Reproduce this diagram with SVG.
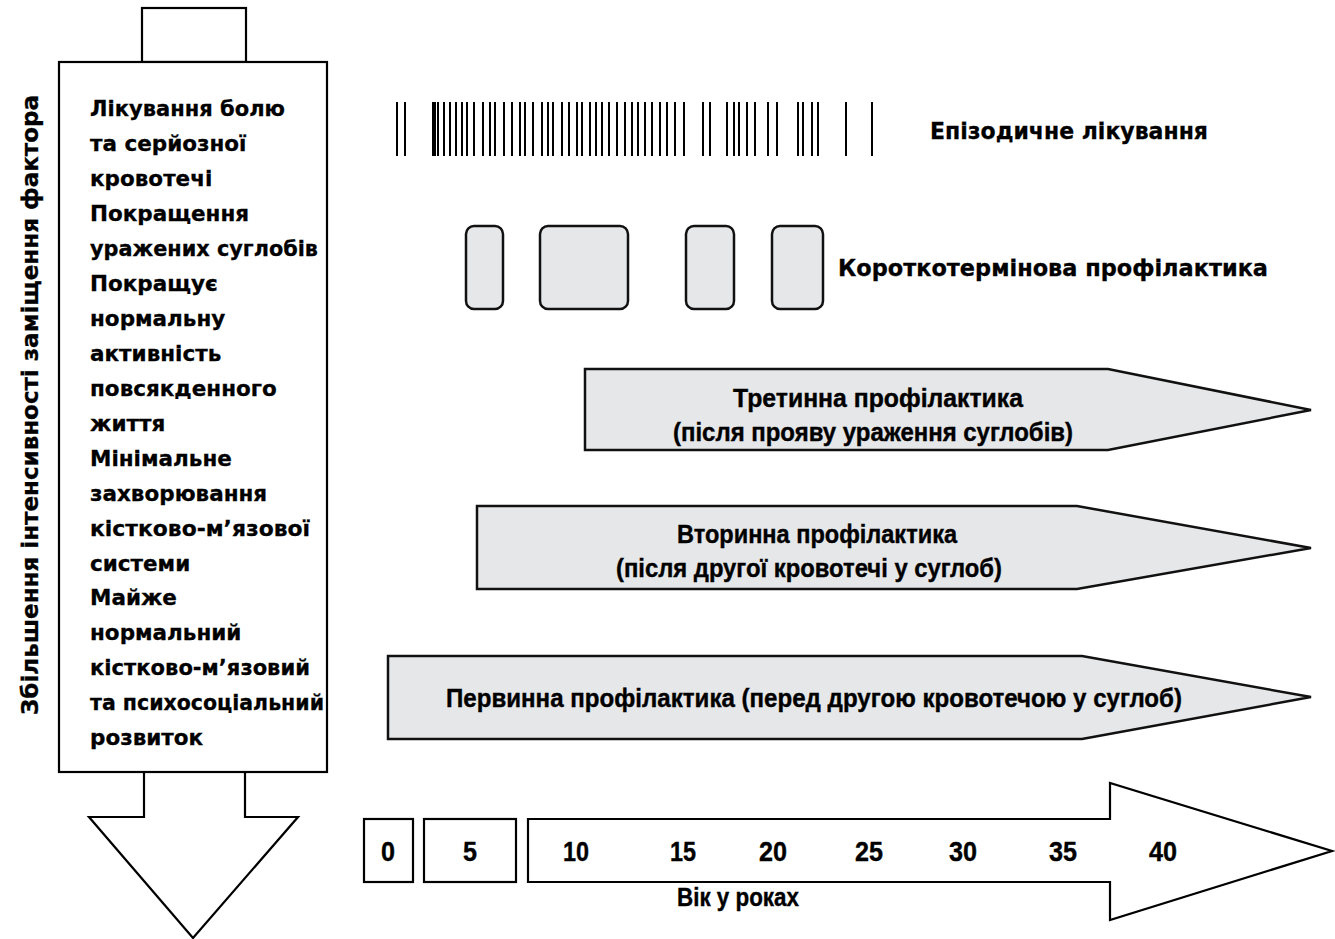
<svg xmlns="http://www.w3.org/2000/svg" width="1335" height="939" viewBox="0 0 1335 939">
<style>
.o{fill:#fff;stroke:#000;stroke-width:2.2}
.g{fill:#e6e7e8;stroke:#111;stroke-width:2.5;stroke-linejoin:miter}
.t{font-family:"Liberation Sans",Arial,sans-serif;font-weight:bold;fill:#000;stroke:#000;stroke-width:0.4}
.d{font-family:"DejaVu Sans","Liberation Sans",sans-serif;font-weight:bold;fill:#000;stroke:#000;stroke-width:0.3}
.b{font-size:21.5px}
.l{font-size:22.5px}
.c{font-size:26.5px}
.n{font-size:28px}
.m{text-anchor:middle}
.bar{stroke:#000;stroke-width:2;fill:none}
</style>
<rect width="1335" height="939" fill="#fff"/>
<g id="intensity-arrow">
<rect class="o" x="142" y="8" width="104" height="54"/>
<path class="o" d="M144,772 V817 H89 L193,938 L298,817 H245 V772"/>
<rect class="o" x="59" y="62" width="268" height="710"/>
<text class="d b" x="90" y="116" textLength="195" lengthAdjust="spacingAndGlyphs">Лікування болю</text>
<text class="d b" x="90" y="151">та серйозної</text>
<text class="d b" x="90" y="186">кровотечі</text>
<text class="d b" x="90" y="221">Покращення</text>
<text class="d b" x="90" y="256" textLength="228" lengthAdjust="spacingAndGlyphs">уражених суглобів</text>
<text class="d b" x="90" y="291">Покращує</text>
<text class="d b" x="90" y="326">нормальну</text>
<text class="d b" x="90" y="361">активність</text>
<text class="d b" x="90" y="396">повсякденного</text>
<text class="d b" x="90" y="431">життя</text>
<text class="d b" x="90" y="466">Мінімальне</text>
<text class="d b" x="90" y="501">захворювання</text>
<text class="d b" x="90" y="536" textLength="220" lengthAdjust="spacingAndGlyphs">кістково-м’язової</text>
<text class="d b" x="90" y="571">системи</text>
<text class="d b" x="90" y="605">Майже</text>
<text class="d b" x="90" y="640">нормальний</text>
<text class="d b" x="90" y="675" textLength="220" lengthAdjust="spacingAndGlyphs">кістково-м’язовий</text>
<text class="d b" x="90" y="710" textLength="234" lengthAdjust="spacingAndGlyphs">та психосоціальний</text>
<text class="d b" x="90" y="745">розвиток</text>
</g>
<g id="y-label">
<text class="d l m" transform="translate(38,405) rotate(-90)" textLength="620" lengthAdjust="spacingAndGlyphs">Збільшення інтенсивності заміщення фактора</text>
</g>
<g id="episodic">
<path class="bar" d="M397,102V156M405,102V156M433,102V156M435,102V156M438,102V156M444,102V156M450,102V156M456,102V156M462,102V156M467,102V156M474,102V156M483,102V156M490,102V156M495,102V156M504,102V156M512,102V156M520,102V156M525,102V156M533,102V156M542,102V156M548,102V156M553,102V156M562,102V156M569,102V156M577,102V156M582,102V156M590,102V156M596,102V156M602,102V156M609,102V156M617,102V156M625,102V156M632,102V156M638,102V156M645,102V156M652,102V156M660,102V156M667,102V156M675,102V156M684,102V156M703,102V156M710,102V156M727,102V156M734,102V156M739,102V156M747,102V156M755,102V156M768,102V156M777,102V156M798,102V156M803,102V156M812,102V156M818,102V156M846,102V156M872,102V156"/>
<text class="d l" x="930" y="139" textLength="278" lengthAdjust="spacingAndGlyphs">Епізодичне лікування</text>
</g>
<g id="short-term">
<rect class="g" x="466" y="226" width="37" height="83" rx="8"/>
<rect class="g" x="540" y="226" width="88" height="83" rx="8"/>
<rect class="g" x="686" y="226" width="48" height="83" rx="8"/>
<rect class="g" x="772" y="226" width="51" height="83" rx="8"/>
<text class="d l" x="838" y="276" textLength="430" lengthAdjust="spacingAndGlyphs">Короткотермінова профілактика</text>
</g>
<g id="tertiary">
<path class="g" d="M585,369 H1108 L1311,410 L1108,450 H585 Z"/>
<text class="t c m" x="878" y="407" textLength="290" lengthAdjust="spacingAndGlyphs">Третинна профілактика</text>
<text class="t c m" x="873" y="441" textLength="400" lengthAdjust="spacingAndGlyphs">(після прояву ураження суглобів)</text>
</g>
<g id="secondary">
<path class="g" d="M477,506 H1077 L1311,548 L1077,589 H477 Z"/>
<text class="t c m" x="817" y="543" textLength="280" lengthAdjust="spacingAndGlyphs">Вторинна профілактика</text>
<text class="t c m" x="809" y="577" textLength="386" lengthAdjust="spacingAndGlyphs">(після другої кровотечі у суглоб)</text>
</g>
<g id="primary">
<path class="g" d="M388,656 H1082 L1311,697 L1082,739 H388 Z"/>
<text class="t c m" x="814" y="707" textLength="736" lengthAdjust="spacingAndGlyphs">Первинна профілактика (перед другою кровотечою у суглоб)</text>
</g>
<g id="age-axis">
<rect class="o" x="364" y="819" width="49" height="63"/>
<rect class="o" x="424" y="819" width="92" height="63"/>
<path class="o" d="M528,819 H1110 V783 L1332,851 L1110,920 V882 H528 Z"/>
<text class="t n m" x="388" y="861" textLength="14" lengthAdjust="spacingAndGlyphs">0</text>
<text class="t n m" x="470" y="861" textLength="14" lengthAdjust="spacingAndGlyphs">5</text>
<text class="t n m" x="576" y="861" textLength="26" lengthAdjust="spacingAndGlyphs">10</text>
<text class="t n m" x="683" y="861" textLength="26" lengthAdjust="spacingAndGlyphs">15</text>
<text class="t n m" x="773" y="861" textLength="28" lengthAdjust="spacingAndGlyphs">20</text>
<text class="t n m" x="869" y="861" textLength="28" lengthAdjust="spacingAndGlyphs">25</text>
<text class="t n m" x="963" y="861" textLength="28" lengthAdjust="spacingAndGlyphs">30</text>
<text class="t n m" x="1063" y="861" textLength="28" lengthAdjust="spacingAndGlyphs">35</text>
<text class="t n m" x="1163" y="861" textLength="28" lengthAdjust="spacingAndGlyphs">40</text>
<text class="t c m" x="738" y="906" textLength="122" lengthAdjust="spacingAndGlyphs">Вік у роках</text>
</g>
</svg>
